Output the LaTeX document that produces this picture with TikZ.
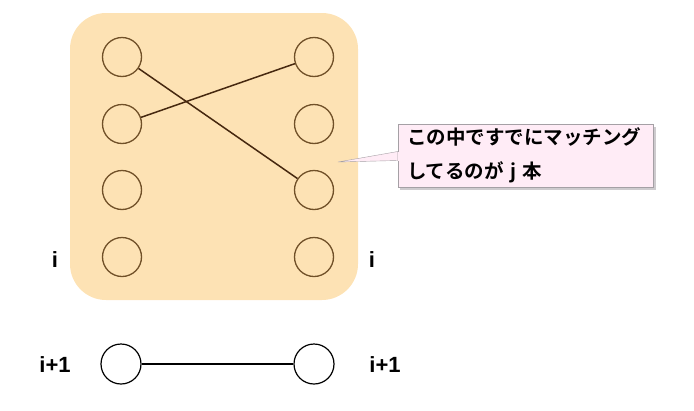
\documentclass[tikz,border=0pt]{standalone}
\usepackage{fontspec}
\usepackage{xcolor}
\usetikzlibrary{positioning}
\setmainfont{Liberation Sans}
\newfontfamily\jpfont{Noto Sans CJK JP}[BoldFont={* Bold}]
\definecolor{BoxOrange}{RGB}{253,226,180}
\definecolor{RingBrown}{RGB}{112,80,40}
\definecolor{EdgeBrown}{RGB}{70,40,15}
\definecolor{NotePink}{RGB}{255,236,246}
\definecolor{NoteGray}{RGB}{165,160,165}

\begin{document}
\begin{tikzpicture}[x=1pt, y=-1pt,
  vert/.style={
    circle,
    draw=RingBrown,
    line width=1.3pt,
    minimum size=39pt,
    inner sep=0pt,
  },
  free/.style={
    circle,
    draw=black,
    line width=1.2pt,
    fill=white,
    minimum size=40pt,
    inner sep=0pt,
  },
  edge/.style={EdgeBrown, line width=1.5pt},
  lbl/.style={font=\fontsize{22}{26}\selectfont\bfseries},
  note/.style={
    draw=NoteGray,
    fill=NotePink,
    font=\jpfont\bfseries\fontsize{19.5}{34}\selectfont,
    align=left,
    minimum width=255pt,
    minimum height=63pt,
    inner sep=0pt,
    text width=237pt,
  },
]
  \useasboundingbox (0,0) rectangle (694,410);

  % matched part
  \fill[BoxOrange, rounded corners=36pt] (70,13) rectangle (358,300);

  \node[vert] (l1) at (122,57) {};
  \node[vert] (l2) at (122,124) {};
  \node[vert] (l3) at (122,190) {};
  \node[vert] (l4) at (122,257) {};
  \node[vert] (r1) at (314,57) {};
  \node[vert] (r2) at (314,124) {};
  \node[vert] (r3) at (314,190) {};
  \node[vert] (r4) at (314,257) {};

  \draw[edge] (l1) -- (r3);
  \draw[edge] (l2) -- (r1);

  \node[lbl] (li) at (55,260) {i};
  \node[lbl] (ri) at (372,260) {i};

  % row i+1
  \node[free] (lb) at (121,364) {};
  \node[free] (rb) at (314,364) {};
  \draw[line width=1.2pt] (lb) -- (rb);

  \node[lbl] (lbi) at (55,365) {i+1};
  \node[lbl] (rbi) at (385,365) {i+1};

  % callout
  \coordinate (tip) at (338,162);
  \fill[NoteGray!55] (400,127) rectangle (655.5,189.5);
  \node[note] (memo) at (525.5,155.5) {この中ですでにマッチング\\してるのが j 本};
  \draw[NoteGray, fill=NotePink] (tip) -- ([yshift=-5pt]memo.west) -- ([yshift=4pt]memo.west) -- cycle;
  \fill[NotePink] ([xshift=-0.3pt,yshift=-5pt]memo.west) rectangle ([xshift=1pt,yshift=4pt]memo.west);
\end{tikzpicture}
\end{document}
